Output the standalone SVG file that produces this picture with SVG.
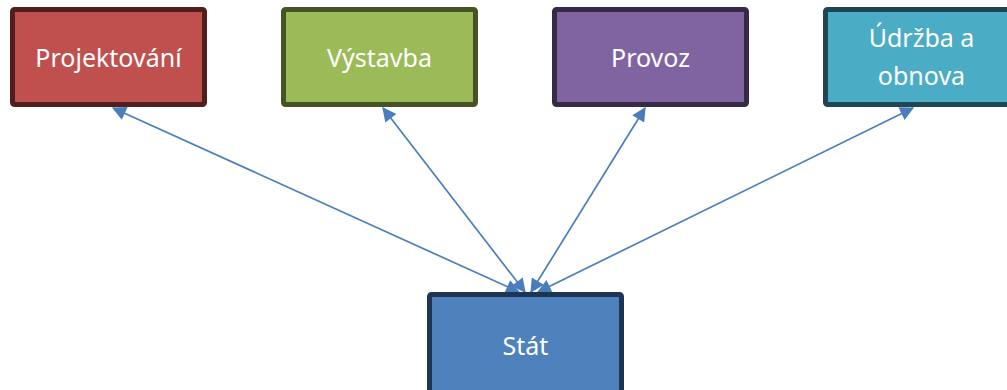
<svg xmlns="http://www.w3.org/2000/svg" width="1007" height="390" viewBox="0 0 1007 390">
<style>
  .box { stroke-width: 5; }
  .lbl { font-family: "Noto Sans", "Open Sans", sans-serif; font-size: 25px; fill: #ffffff; text-anchor: middle; dominant-baseline: central; }
  .conn { stroke: #4A7EBB; stroke-width: 1.7; fill: none; marker-start: url(#ah); marker-end: url(#ah); }
</style>
<defs>
  <marker id="ah" viewBox="0 0 12 12" refX="11" refY="6" markerWidth="16" markerHeight="14" markerUnits="userSpaceOnUse" orient="auto-start-reverse">
    <path d="M0,0 L12,6 L0,12 z" fill="#4A7EBB"/>
  </marker>
</defs>
<rect width="1007" height="390" fill="#ffffff"/>
<g id="connectors">
  <line class="conn" x1="519" y1="292" x2="113" y2="108"/>
  <line class="conn" x1="525" y1="292" x2="383" y2="108"/>
  <line class="conn" x1="531" y1="292" x2="645" y2="108"/>
  <line class="conn" x1="538" y1="292" x2="913" y2="108"/>
</g>
<g id="projektovani">
  <rect class="box" x="12.5" y="9.5" width="192" height="95" rx="2" fill="#C0504D" stroke="#4F1E1D"/>
  <text class="lbl" x="108.5" y="57">Projektování</text>
</g>
<g id="vystavba">
  <rect class="box" x="283.5" y="9.5" width="192" height="95" rx="2" fill="#9BBB59" stroke="#465324"/>
  <text class="lbl" x="379.5" y="57">Výstavba</text>
</g>
<g id="provoz">
  <rect class="box" x="554.5" y="9.5" width="192" height="95" rx="2" fill="#8064A2" stroke="#372A47"/>
  <text class="lbl" x="650.5" y="57">Provoz</text>
</g>
<g id="udrzba">
  <rect class="box" x="825.5" y="9.5" width="192" height="95" rx="2" fill="#4BACC6" stroke="#1E4752"/>
  <text class="lbl" x="921.5" y="37">Údržba a</text>
  <text class="lbl" x="921.5" y="75">obnova</text>
</g>
<g id="stat">
  <rect class="box" x="429.5" y="294.5" width="192" height="99" rx="2" fill="#4F81BD" stroke="#1F3554"/>
  <text class="lbl" x="525.5" y="345">Stát</text>
</g>
</svg>
